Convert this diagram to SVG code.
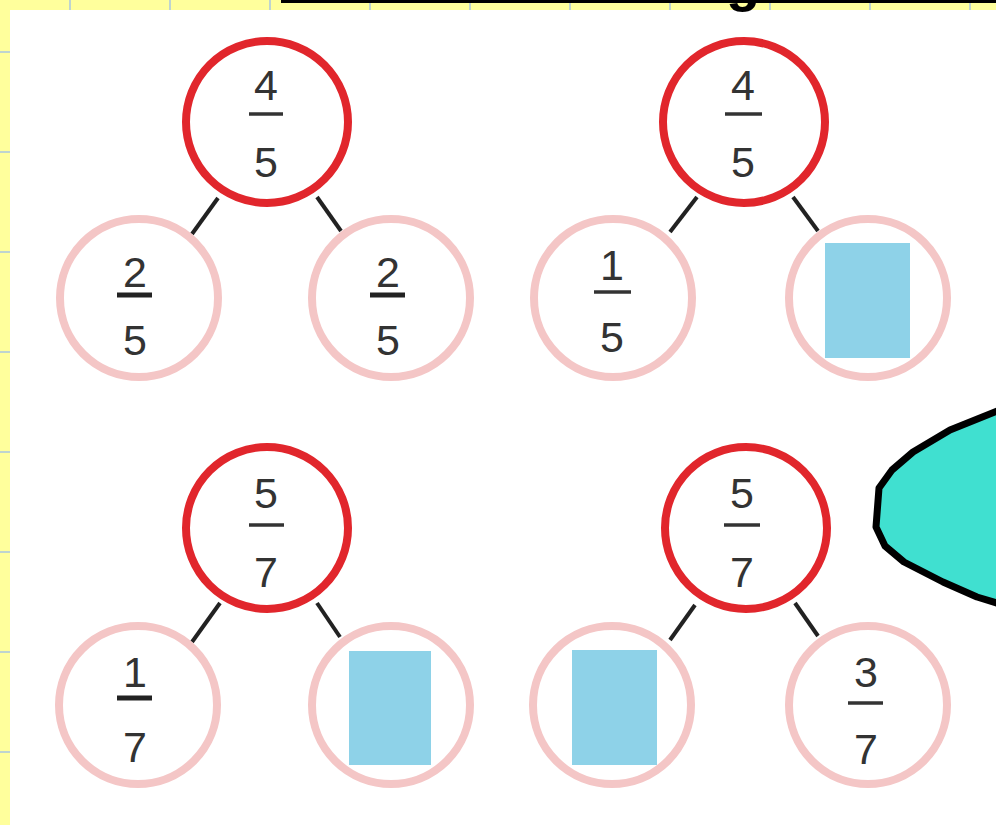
<svg xmlns="http://www.w3.org/2000/svg" width="996" height="825" viewBox="0 0 996 825">
<style>
.top{fill:#ffffff;stroke:#E1262C;stroke-width:8}
.child{fill:#ffffff;stroke:#F4C6C6;stroke-width:8}
.num{font-family:"Liberation Sans",Arial,sans-serif;font-size:43px;fill:#333333;text-anchor:middle}
.bar{stroke:#333333;stroke-width:3.5}
.barb{stroke:#222222;stroke-width:5}
.box{fill:#8ED2E8}
.conn line{stroke:#222222;stroke-width:4}
.grid{stroke:#A9C6E2;stroke-width:1.5}
</style>
<rect x="0" y="0" width="996" height="825" fill="#FFFF9C"/>
<g class="grid">
<line x1="70" y1="0" x2="70" y2="10"/><line x1="170" y1="0" x2="170" y2="10"/><line x1="270" y1="0" x2="270" y2="10"/><line x1="370" y1="0" x2="370" y2="10"/><line x1="470" y1="0" x2="470" y2="10"/><line x1="570" y1="0" x2="570" y2="10"/><line x1="670" y1="0" x2="670" y2="10"/><line x1="770" y1="0" x2="770" y2="10"/><line x1="870" y1="0" x2="870" y2="10"/><line x1="970" y1="0" x2="970" y2="10"/>
<line x1="0" y1="52" x2="10" y2="52"/><line x1="0" y1="152" x2="10" y2="152"/><line x1="0" y1="252" x2="10" y2="252"/><line x1="0" y1="352" x2="10" y2="352"/><line x1="0" y1="452" x2="10" y2="452"/><line x1="0" y1="552" x2="10" y2="552"/><line x1="0" y1="652" x2="10" y2="652"/><line x1="0" y1="752" x2="10" y2="752"/>
</g>
<rect x="281" y="0" width="715" height="3" fill="#000000"/>
<rect x="10" y="10" width="986" height="815" fill="#ffffff"/>
<text x="743" y="0" font-family="Liberation Sans,Arial,sans-serif" font-weight="bold" font-size="56" fill="#000000" text-anchor="middle">g</text>

<g class="conn">
<line x1="192" y1="234" x2="218" y2="198"/><line x1="317" y1="197" x2="341" y2="231"/>
<line x1="670" y1="232" x2="697" y2="197"/><line x1="793" y1="197" x2="818" y2="231"/>
<line x1="192" y1="642" x2="220" y2="603"/><line x1="317" y1="603" x2="340" y2="637"/>
<line x1="670" y1="640" x2="695" y2="605"/><line x1="795" y1="603" x2="818" y2="636"/>
</g>

<g id="n1-top">
<circle class="top" cx="267" cy="122" r="81"/>
<text class="num" x="266" y="100">4</text><line class="bar" x1="249" y1="114" x2="283" y2="114"/><text class="num" x="266" y="177">5</text>
</g>
<g id="n1-left">
<circle class="child" cx="139" cy="298" r="79"/>
<text class="num" x="135" y="287">2</text><line class="barb" x1="117" y1="295" x2="152" y2="295"/><text class="num" x="135" y="355">5</text>
</g>
<g id="n1-right">
<circle class="child" cx="391" cy="298" r="79"/>
<text class="num" x="388" y="287">2</text><line class="barb" x1="370" y1="295" x2="405" y2="295"/><text class="num" x="388" y="355">5</text>
</g>

<g id="n2-top">
<circle class="top" cx="744" cy="122" r="81"/>
<text class="num" x="743" y="100">4</text><line class="bar" x1="725" y1="114" x2="762" y2="114"/><text class="num" x="743" y="177">5</text>
</g>
<g id="n2-left">
<circle class="child" cx="613" cy="298" r="79"/>
<text class="num" x="612" y="280">1</text><line class="bar" x1="594" y1="292" x2="631" y2="292"/><text class="num" x="612" y="352">5</text>
</g>
<g id="n2-right">
<circle class="child" cx="868" cy="298" r="79"/>
<rect class="box" x="825" y="243" width="85" height="115"/>
</g>

<g id="n3-top">
<circle class="top" cx="267" cy="528" r="81"/>
<text class="num" x="266" y="508">5</text><line class="bar" x1="249" y1="525" x2="284" y2="525"/><text class="num" x="266" y="587">7</text>
</g>
<g id="n3-left">
<circle class="child" cx="138" cy="705" r="79"/>
<text class="num" x="135" y="687">1</text><line class="barb" x1="117" y1="698" x2="152" y2="698"/><text class="num" x="135" y="762">7</text>
</g>
<g id="n3-right">
<circle class="child" cx="391" cy="705" r="79"/>
<rect class="box" x="349" y="651" width="82" height="114"/>
</g>

<g id="n4-top">
<circle class="top" cx="746" cy="528" r="81"/>
<text class="num" x="742" y="508">5</text><line class="bar" x1="724" y1="525" x2="760" y2="525"/><text class="num" x="742" y="587">7</text>
</g>
<g id="n4-left">
<circle class="child" cx="612" cy="705" r="79"/>
<rect class="box" x="572" y="650" width="85" height="115"/>
</g>
<g id="n4-right">
<circle class="child" cx="868" cy="705" r="79"/>
<text class="num" x="866" y="687">3</text><line class="bar" x1="848" y1="703" x2="883" y2="703"/><text class="num" x="866" y="764">7</text>
</g>

<path d="M1000,410 L950,430 L913,452 L892,470 L879,488 L876,527 L885,546 L904,562 L943,582 L977,597 L1000,604 Z" fill="#40E0D0" stroke="#000000" stroke-width="7" stroke-linejoin="round"/>
</svg>
